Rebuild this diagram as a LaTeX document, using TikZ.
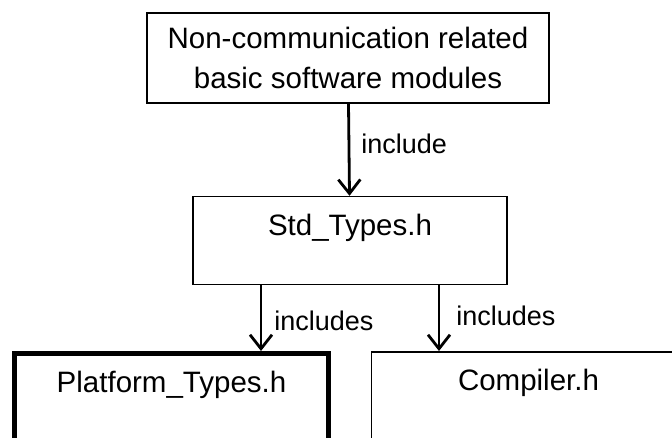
\documentclass[tikz,border=0pt]{standalone}
\usepackage{fontspec}
\setmainfont{Liberation Sans}
\usetikzlibrary{arrows.meta,positioning}

\begin{document}
\begin{tikzpicture}[
    x=1pt, y=-1pt,
    box/.style={rectangle, draw, line width=1.6pt, inner sep=0pt, align=center},
    filebox/.style={box, minimum width=314pt, text height=39pt, text depth=49pt,
        font=\fontsize{29.5}{34}\selectfont},
    arrow/.style={-{Straight Barb[length=14pt,width=22pt]}, line width=2.8pt},
    lbl/.style={font=\fontsize{27}{32}\selectfont, anchor=west, inner sep=0pt}
]
    \clip (0,0) rectangle (672,437);

    \node[box, minimum width=402pt, minimum height=90pt, font=\fontsize{29.5}{40}\selectfont]
        (mods) at (348,58) {Non-communication related\\basic software modules};
    \node[filebox, below=92pt of mods, xshift=2pt] (std) {Std\_Types.h};
    \node[filebox, anchor=north, line width=4.8pt] (plat) at (171.5,351) {Platform\_Types.h};
    \node[filebox, anchor=north] (comp) at (528.5,351) {Compiler.h};

    \draw[arrow] (mods) -- node[lbl, pos=0.43, xshift=11pt] (incl) {include} (std);
    \draw[arrow] ([xshift=-89pt]std.south) -- ([xshift=-89pt]std.south |- plat.north)
        node[lbl, pos=0.54, xshift=12pt] (inclplat) {includes};
    \draw[arrow] ([xshift=89pt]std.south) -- ([xshift=89pt]std.south |- comp.north)
        node[lbl, pos=0.47, xshift=16pt] (inclcomp) {includes};
\end{tikzpicture}
\end{document}
